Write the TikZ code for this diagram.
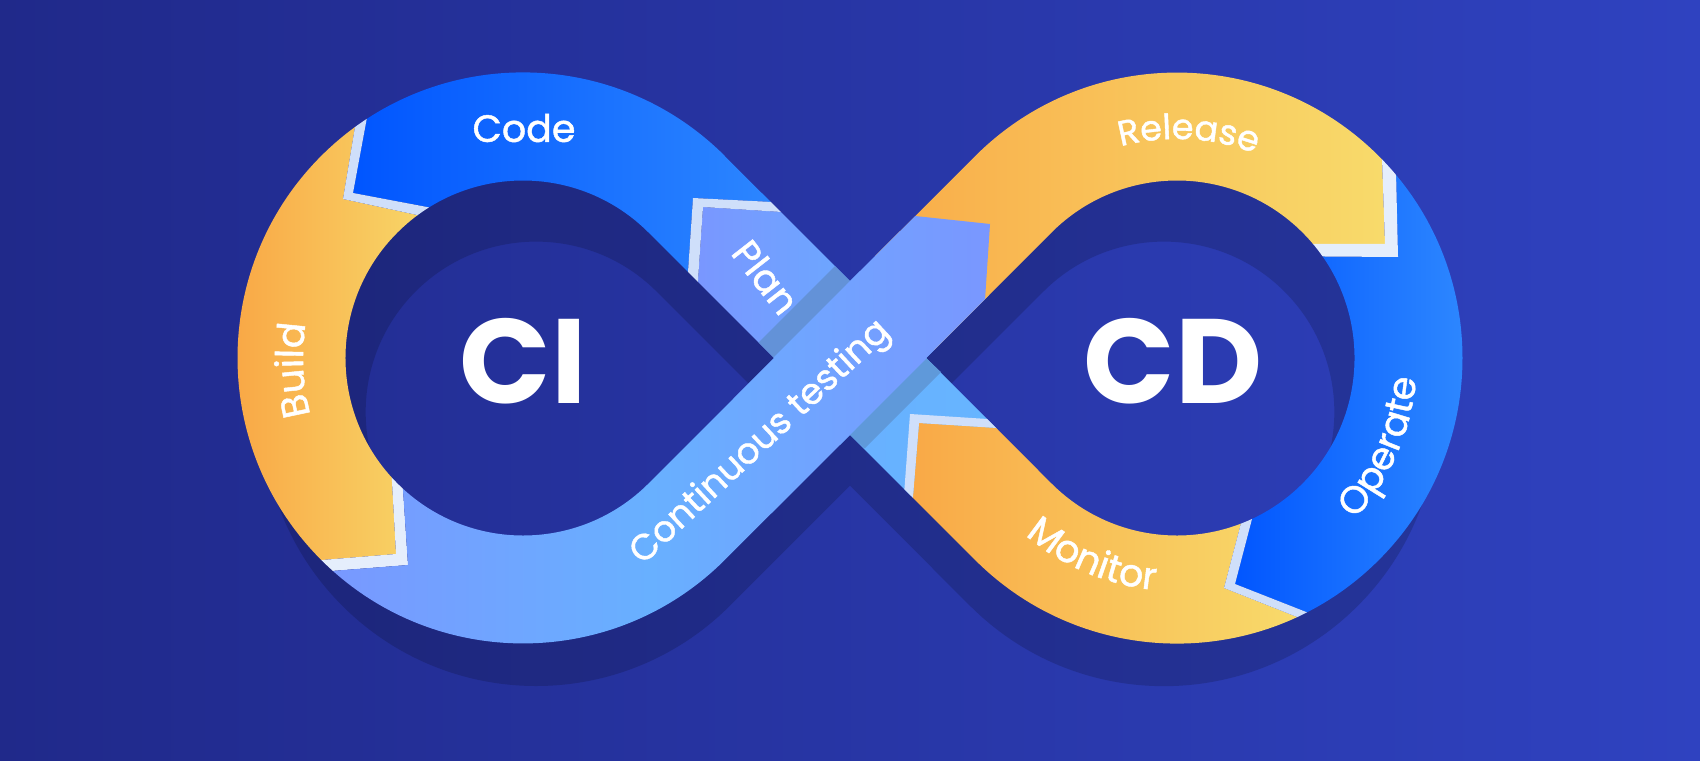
\documentclass[tikz,border=0pt]{standalone}
\usepackage{fontspec}
\usetikzlibrary{decorations.text}
\setmainfont{Poppins}
\newfontfamily\labfam{Poppins}[FakeBold=1.2]
\newcommand\lab{\labfam\fontsize{19}{23}\selectfont}
\newcommand\labr{\labfam\fontsize{17.5}{21}\selectfont}
\newcommand\labc{\labfam\fontsize{18}{22}\selectfont}
\newcommand\bigf{\bfseries\fontsize{60}{72}\selectfont}
\definecolor{bgL}{HTML}{20298A}
\definecolor{bgR}{HTML}{2F42C0}
\definecolor{orA}{HTML}{F9A846}
\definecolor{orB}{HTML}{F8DC6C}
\definecolor{blA}{HTML}{0055FF}
\definecolor{blB}{HTML}{2E88FF}
\definecolor{peri}{HTML}{7A96FF}
\definecolor{skyb}{HTML}{68B0FF}
\definecolor{skyc}{HTML}{66B6FF}
\definecolor{pla}{HTML}{6BA8FF}
\definecolor{lightA}{HTML}{CFDFFA}
\definecolor{lightB}{HTML}{E5EEFC}
\definecolor{stripA}{HTML}{6392D8}
\definecolor{stripB}{HTML}{5F99DA}
\newcommand\figeight{
  (724.9,156.2) -- (850,281.2) -- (975.1,156.2)
  arc[start angle=-135,end angle=135,radius=142.75pt]
  -- (850,434.8) -- (724.9,559.8)
  arc[start angle=45,end angle=315,radius=142.75pt] -- cycle
  (648.5,232.5) arc[start angle=-45,end angle=-315,radius=88.75pt] -- (774,358) -- cycle
  (1051.5,232.5) arc[start angle=-135,end angle=135,radius=88.75pt] -- (926,358) -- cycle
}
% #1 polygon, #2 x0, #3 x1, #4 shading colours
\newcommand\seg[4]{\begin{scope}[even odd rule]\clip \figeight;\begin{scope}[nonzero rule]\clip #1 -- cycle;
  \shade[#4] (#2,0) rectangle (#3,760);\end{scope}\end{scope}}
\newcommand\stripe[2]{\begin{scope}[even odd rule]\clip \figeight;\begin{scope}[nonzero rule]\fill[#2] #1 -- cycle;\end{scope}\end{scope}}
\tikzset{lbl/.style={text=white,font=\lab,inner sep=0pt},
  big/.style={text=white,font=\bigf,inner sep=0pt}}
\begin{document}
\begin{tikzpicture}[x=0.5pt,y=0.5pt]
\useasboundingbox (0,0) rectangle (1700,760);
\shade[left color=bgL,right color=bgR] (0,0) rectangle (1700,760);
\begin{scope}[shift={(0,760)},yscale=-1]
  % shadow
  \begin{scope}[shift={(850,412)},scale=0.96,shift={(-850,-358)}]
    \fill[black,opacity=0.16,even odd rule] \figeight;
  \end{scope}
  % Build
  \seg{(362,85) -- (343,199) -- (491,231) -- (388,410) -- (396,554) -- (248,566) -- (150,350)}{235}{450}{left color=orA,right color=orB}
  % Code
  \seg{(373,85) -- (353,193) -- (501,221) -- (683,346) -- (693,198) -- (851,206) -- (700,20) -- (373,20)}{350}{790}{left color=blA,right color=blB}
  % Plan
  \seg{(703,207) -- (860,217) -- (930,280) -- (770,440) -- (693,353)}{690}{860}{left color=peri,right color=pla}
  % lower straight piece
  \seg{(850,358) -- (1000,290) -- (1010,420) -- (905,500) -- (800,440)}{840}{1020}{left color=skyb,right color=skyc}
  % Monitor
  \seg{(919,423) -- (1075,433) -- (1255,470) -- (1224,588) -- (1370,646) -- (1100,720) -- (907,570)}{905}{1310}{left color=orA,right color=orB}
  % Operate
  \seg{(1264,473) -- (1235,584) -- (1380,641) -- (1600,640) -- (1600,100) -- (1395,130) -- (1398,257) -- (1250,256)}{1230}{1470}{left color=blA,right color=blB}
  % Release
  \seg{(1381,130) -- (1385,244) -- (1250,244) -- (960,380) -- (900,310) -- (850,200) -- (1000,20) -- (1381,20)}{840}{1400}{left color=orA,right color=orB}
  % light chevrons
  \stripe{(362,85) -- (343,199) -- (491,231) -- (501,221) -- (353,193) -- (373,85)}{lightA}
  \stripe{(388,410) -- (396,554) -- (248,566) -- (255,577) -- (408,565) -- (398,415)}{lightB}
  \stripe{(693,198) -- (851,206) -- (860,217) -- (703,207) -- (693,353) -- (683,346)}{lightA}
  \stripe{(910,414) -- (1065,424) -- (1075,433) -- (919,423) -- (907,570) -- (899,562)}{lightA}
  \stripe{(1255,470) -- (1224,588) -- (1370,646) -- (1380,641) -- (1235,584) -- (1264,473)}{lightA}
  \stripe{(1381,130) -- (1385,244) -- (1250,244) -- (1250,256) -- (1398,257) -- (1395,130)}{lightB}
  % shadow strips beside the crossing band
  \fill[stripA] (850,281.2) -- (835,266.2) -- (758.5,342.5) -- (774,358) -- cycle;
  \fill[stripB] (926,358) -- (941,372.2) -- (864.5,448.5) -- (850,434.8) -- cycle;
  % Continuous testing
  \seg{(398,415) -- (408,565) -- (255,577) -- (300,720) -- (565,719.8) -- (985,299.8) -- (990,224) -- (915,216) -- (649,482) -- (500,400)}{300}{1000}{left color=peri,right color=peri,middle color=skyb}
\end{scope}
\node[big] (ci) at (523,399) {CI};
\node[big] (cd) at (1173,399) {CD};
\node[lbl] (code) at (524,632) {Code};
\node[lbl,rotate=-52] (plan) at (766,483) {Plan};
\node[lbl,font=\labc,rotate=43] (ct) at (761,317) {Continuous testing};
\path[decorate,decoration={text along path,text color=white,text align=center,text={|\lab|Build}}]
  (523,402) ++(213:220) arc[start angle=213,end angle=153,radius=110pt];
\path[decorate,decoration={text along path,text color=white,text align=center,text={|\labr|Release}}]
  (1177,402) ++(122:219) arc[start angle=122,end angle=52,radius=109.5pt];
\path[decorate,decoration={text along path,text color=white,text align=center,text={|\lab|Monitor}}]
  (1177,402) ++(212:233) arc[start angle=212,end angle=282,radius=116.5pt];
\path[decorate,decoration={text along path,text color=white,text align=center,text={|\lab|Operate}}]
  (1177,402) ++(301.5:240) arc[start angle=301.5,end angle=371.5,radius=120pt];
\end{tikzpicture}
\end{document}
